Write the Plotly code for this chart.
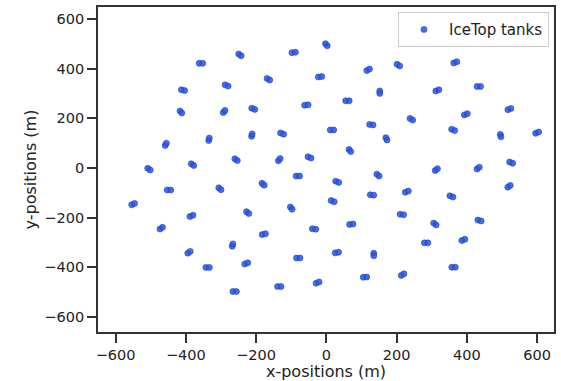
import numpy as np
import plotly.graph_objects as go

# IceTop station centres (m) and tank-pair orientation (deg)
station_x = [-357, -246, -408, -284, -414, -291, -208, -457, -334, -212, -505, -381, -257,
             -93, 0, -165, -18, 119, 205, 152, -57, 60, -126, 16, 128, 171, 67, -134, -48,
             367, 316, 434, 242, 397, 521, 361, 496, 600, 313, 432, 526,
             -448, -303, -550, -384, -224, -470, -267, -391, -338, -228, -261,
             -180, -81, 31, 147, 229, -100, 18, 130, 215, -178, -35, 71, -80, 30, 135, 217, -134, -25, 110,
             356, 520, 309, 436, 284, 390, 362]
station_y = [421, 455, 313, 332, 225, 227, 238, 95, 115, 132, -5, 13, 33,
             465, 496, 357, 367, 395, 414, 305, 253, 270, 138, 153, 174, 117, 70, 33, 42,
             425, 312, 328, 196, 216, 237, 153, 130, 142, -7, -1, 21,
             -89, -84, -146, -193, -180, -243, -311, -340, -401, -385, -498,
             -66, -33, -56, -29, -96, -162, -134, -109, -188, -267, -246, -227, -363, -341, -349, -430, -478, -462, -440,
             -115, -74, -226, -212, -302, -290, -400]
tank_angle = [0, -45, -20, -30, -60, 60, -30, 70, 80, 80, -45, -45, -45,
              10, -60, -40, 10, 40, -40, -90, 10, 0, -30, 0, -10, -70, -60, 60, -30,
              30, 30, 0, -40, 30, 30, -30, -80, 30, 50, 50, -30,
              0, -50, 35, 30, -50, 45, 80, 45, 0, 30, 0,
              -50, 0, -30, -50, 30, -60, -30, -10, -10, 20, -10, 10, 0, 15, -90, 40, 0, 30, 5,
              -30, 45, -45, -20, 0, 30, 0]
tank_half_spacing = 5.0  # m

sx = np.array(station_x, float)
sy = np.array(station_y, float)
a = np.deg2rad(np.array(tank_angle, float))
dx = tank_half_spacing * np.cos(a)
dy = tank_half_spacing * np.sin(a)
tank_x = np.concatenate([sx - dx, sx + dx])
tank_y = np.concatenate([sy - dy, sy + dy])

xticks = [-600, -400, -200, 0, 200, 400, 600]
yticks = [-600, -400, -200, 0, 200, 400, 600]

fig = go.Figure(go.Scatter(
    x=tank_x, y=tank_y, mode='markers', name='IceTop tanks',
    marker=dict(size=6, color='rgba(40,85,235,0.85)',
                line=dict(color='#1d3fb5', width=0.6))))

axis_common = dict(
    showgrid=False, zeroline=False, showline=True, mirror=True,
    linecolor='#333333', linewidth=1.8, ticks='outside', ticklen=9,
    tickwidth=1.8, tickcolor='#333333',
    tickfont=dict(family='DejaVu Sans', size=14.5, color='#222222'))

fig.update_layout(
    width=561, height=381,
    margin=dict(l=97.5, r=5, t=5.7, b=46),
    plot_bgcolor='white', paper_bgcolor='white',
    font=dict(family='DejaVu Sans', color='#222222'),
    showlegend=True,
    legend=dict(x=0.989, y=0.984, xanchor='right', yanchor='top',
                bordercolor='#cccccc', borderwidth=1, itemwidth=40,
                bgcolor='rgba(255,255,255,0.8)',
                font=dict(family='DejaVu Sans', size=15, color='#222222')),
    xaxis=dict(range=[-650, 648], tickvals=xticks,
               title=dict(text='x-positions (m)', font=dict(size=16), standoff=2),
               **axis_common),
    yaxis=dict(range=[-661, 648], tickvals=yticks,
               title=dict(text='y-positions (m)', font=dict(size=16), standoff=4),
               **axis_common),
)

fig.write_html('out.html')
